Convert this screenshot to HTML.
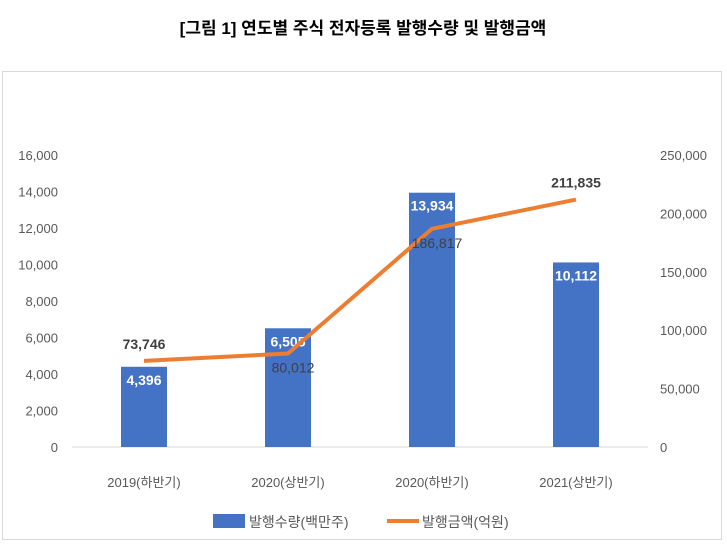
<!DOCTYPE html>
<html><head><meta charset="utf-8"><style>
body{margin:0;background:#fff;}
svg text{font-family:"Liberation Sans","Noto Sans CJK KR",sans-serif;}
</style></head><body>
<svg width="727" height="545" xmlns="http://www.w3.org/2000/svg">
<text x="363" y="34" text-anchor="middle" font-size="17" font-weight="bold" fill="#000">[그림 1] 연도별 주식 전자등록 발행수량 및 발행금액</text>
<rect x="2.5" y="71.5" width="719" height="468" fill="none" stroke="#d9d9d9"/>
<g id="g"></g>
</svg>
<script>
const categories=["2019(하반기)","2020(상반기)","2020(하반기)","2021(상반기)"];
const qty=[4396,6505,13934,10112];
const amt=[73746,80012,186817,211835];
const leftTicks=[0,2000,4000,6000,8000,10000,12000,14000,16000];
const rightTicks=[0,50000,100000,150000,200000,250000];
const ns="http://www.w3.org/2000/svg";
const g=document.getElementById('g');
const x0=72,x1=648,yb=447,yt=155;
const yL=v=>yb-v/16000*(yb-yt);
const yR=v=>yb-v/250000*(yb-yt);
const band=(x1-x0)/categories.length;
const xc=i=>x0+band*(i+0.5);
function el(t,a,txt){const e=document.createElementNS(ns,t);for(const k in a)e.setAttribute(k,a[k]);if(txt!=null)e.textContent=txt;g.appendChild(e);return e;}
const fmt=v=>v.toLocaleString('en-US');
leftTicks.forEach(v=>{const e=el('text',{x:58,y:yL(v)+5,'text-anchor':'end','font-size':13,fill:'#595959'},fmt(v));

});
rightTicks.forEach(v=>{const e=el('text',{x:660,y:yR(v)+5,'font-size':13,fill:'#595959'},fmt(v));

});
const ax=el('line',{x1:x0,x2:x1,y1:yb,y2:yb,stroke:'#d9d9d9','stroke-width':1});


categories.forEach((c,i)=>{
const b=el('rect',{x:xc(i)-23,y:yL(qty[i]),width:46,height:yb-yL(qty[i]),fill:'#4472C4'});


const t=el('text',{x:xc(i),y:yL(qty[i])+18,'text-anchor':'middle','font-size':14,'font-weight':'bold',fill:'#fff'},fmt(qty[i]));


const cl=el('text',{x:xc(i),y:487,'text-anchor':'middle','font-size':13,fill:'#595959'},c);


});
const pl=el('polyline',{points:amt.map((v,i)=>xc(i)+','+yR(v)).join(' '),fill:'none',stroke:'#ED7D31','stroke-width':4,'stroke-linejoin':'round'});


const above=[true,false,false,true];
amt.forEach((v,i)=>{
const t=el('text',{x:xc(i)+(above[i]?0:5),y:above[i]?yR(v)-12:yR(v)+19,'text-anchor':'middle','font-size':14,'font-weight':above[i]?'bold':'normal',fill:'#404040'},fmt(v));


});
const lb=el('rect',{x:213,y:514,width:32,height:14,fill:'#4472C4'});


const lt=el('text',{x:249,y:527,'font-size':14,fill:'#595959'},'발행수량(백만주)');


const ll=el('line',{x1:387,x2:419,y1:521,y2:521,stroke:'#ED7D31','stroke-width':4});


const lt2=el('text',{x:422,y:527,'font-size':14,fill:'#595959'},'발행금액(억원)');


</script>
</body></html>
